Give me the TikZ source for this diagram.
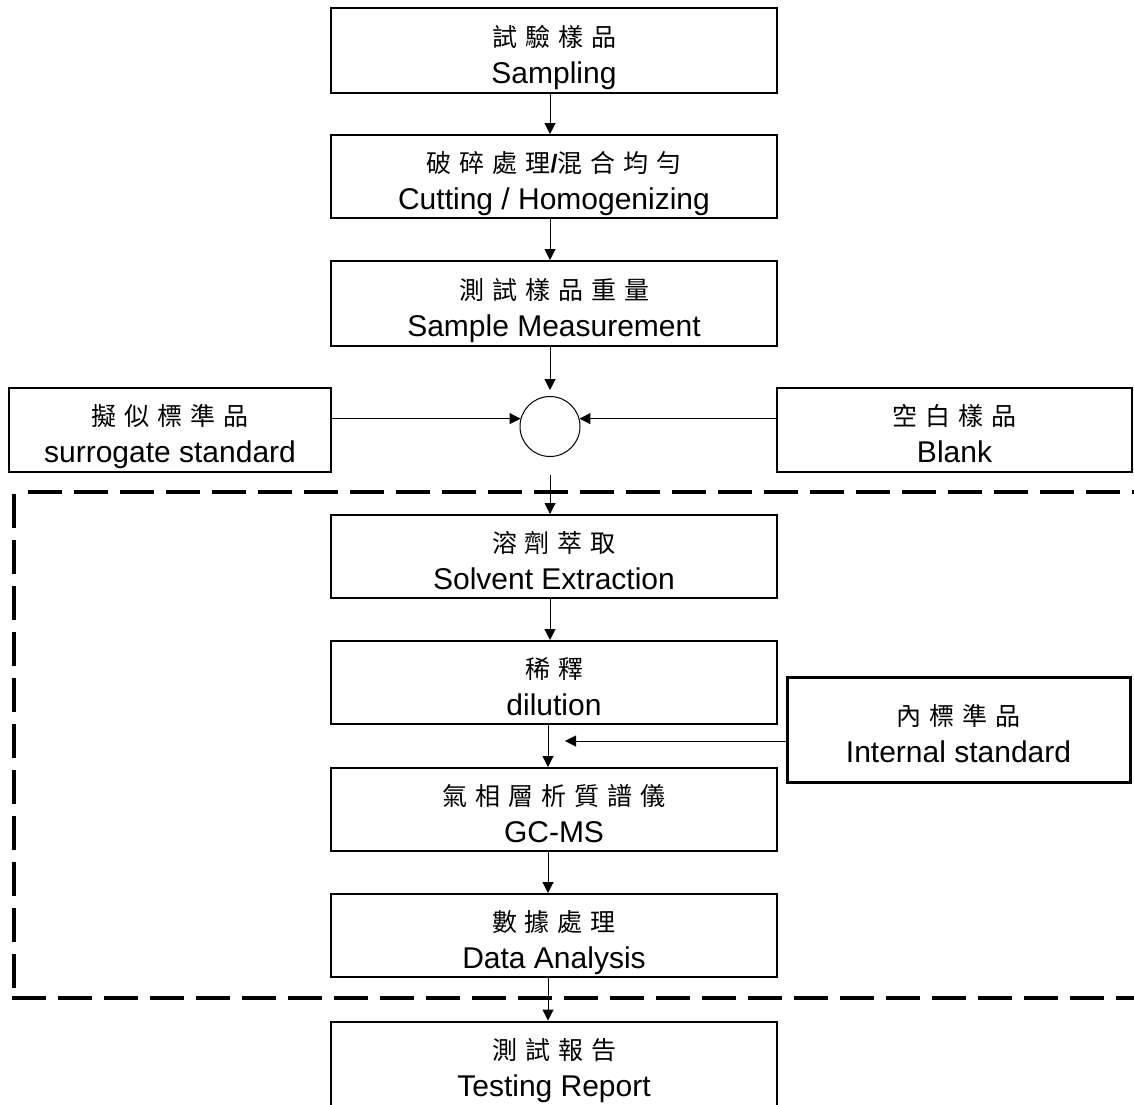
\documentclass[tikz,border=0pt]{standalone}
\usepackage{fontspec}
\setmainfont{Liberation Sans}
\newfontfamily\cjk[LetterSpace=32]{Noto Sans CJK TC}
\usetikzlibrary{arrows.meta,calc}
\newcommand{\zhline}[1]{{\cjk\fontsize{12.5}{18.5}\selectfont\rule{0pt}{18pt}#1}}
\newcommand{\enline}[1]{#1\rule[-4pt]{0pt}{4pt}}
\newcommand{\latslash}{{\fontspec{Liberation Sans}\bfseries/}}
\begin{document}
\begin{tikzpicture}[x=0.5pt,y=-0.5pt,
  box/.style={draw,line width=1pt,minimum width=223pt,minimum height=42.5pt,
    align=center,inner sep=0pt,font=\fontsize{15}{18.5}\selectfont},
  sidebox/.style={box,minimum width=161pt,minimum height=42pt},
  mixer/.style={draw,circle,line width=0.5pt,minimum size=30pt,inner sep=0pt},
  arr/.style={-{Triangle[length=5.5pt,width=5.5pt]},line width=0.5pt},
  dashframe/.style={line width=2pt,dash pattern=on 17pt off 6pt}]
\useasboundingbox (0,0) rectangle (1134,1104);

\node[box] (b1) at (554,50.5) {\zhline{試驗樣品}\\\enline{Sampling}};
\node[box,minimum height=41.5pt] (b2) at (554,176.5) {\zhline{破碎處理\latslash 混合均勻}\\\enline{Cutting / Homogenizing}};
\node[box] (b3) at (554,303.5) {\zhline{測試樣品重量}\\\enline{Sample Measurement}};
\node[sidebox] (sur) at (170,430) {\zhline{擬似標準品}\\\enline{surrogate standard}};
\node[sidebox,minimum width=177.5pt] (blank) at (954.5,430) {\zhline{空白樣品}\\\enline{Blank}};
\node[mixer] (mix) at (550,426.5) {};
\node[box,minimum height=41.5pt] (solv) at (554,556.5) {\zhline{溶劑萃取}\\\enline{Solvent Extraction}};
\node[box,minimum height=41.5pt] (dil) at (554,682.5) {\zhline{稀釋}\\\enline{dilution}};
\node[box,line width=1.5pt,minimum width=171.5pt,minimum height=52.5pt] (istd) at (958.5,729.5) {\zhline{內標準品}\\\enline{Internal standard}};
\node[box,minimum height=41.5pt] (gcms) at (554,809.5) {\zhline{氣相層析質譜儀}\\\enline{GC-MS}};
\node[box,minimum height=41.5pt] (data) at (554,935.5) {\zhline{數據處理}\\\enline{Data Analysis}};
\node[box] (rep) at (554,1064) {\zhline{測試報告}\\\enline{Testing Report}};

% dashed frame
\draw[dashframe] (28,492) -- (1140,492);
\draw[dashframe] (14,494) -- (14,994);
\draw[dashframe] (12,998) -- (1140,998);

% connectors
\draw[arr] ([xshift=-2pt]b1.south) -- ([xshift=-2pt]b2.north);
\draw[arr] ([xshift=-2pt]b2.south) -- ([xshift=-2pt]b3.north);
\draw[arr] ([xshift=-2pt]b3.south) -- ([yshift=3pt]mix.north);
\draw[arr] (sur.east |- mix.165) -- (mix.165);
\draw[arr] (blank.west |- mix.15) -- (mix.15);
\draw[arr] ([yshift=-9pt]mix.south) -- (mix.south |- solv.north);
\draw[arr] ([xshift=-2pt]solv.south) -- ([xshift=-2pt]dil.north);
\draw[arr] ([xshift=-3pt]dil.south) -- ([xshift=-3pt]gcms.north);
\coordinate (ie) at (565,741);
\draw[arr] (istd.west |- ie) -- (ie);
\draw[arr] ([xshift=-3pt]gcms.south) -- ([xshift=-3pt]data.north);
\draw[arr] ([xshift=-3pt]data.south) -- ([xshift=-3pt]rep.north);
\end{tikzpicture}
\end{document}
